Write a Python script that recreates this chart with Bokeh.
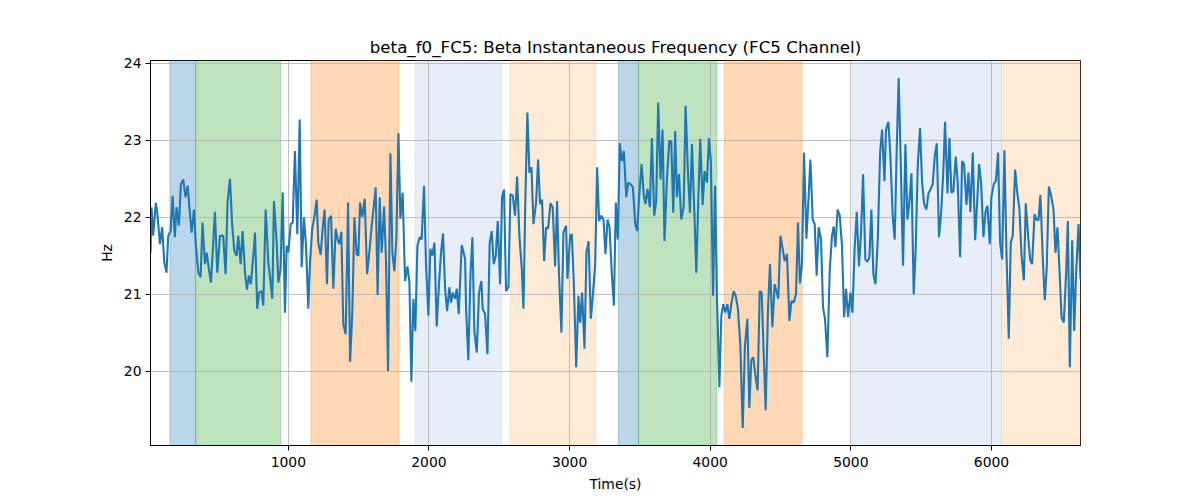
from bokeh.plotting import figure
from bokeh.models import Range1d, BoxAnnotation, FixedTicker
from bokeh.embed import file_html
from bokeh.resources import INLINE

# ---- data ----
time_s = [
    20, 27, 39, 58, 70, 87, 103, 118, 134, 146, 163, 177, 193, 205, 222, 236, 253, 269, 284, 300,
    312, 329, 341, 360, 376, 390, 407, 419, 435, 450, 466, 478, 495, 514, 537, 554, 568, 585, 601, 616,
    632, 644, 661, 675, 692, 706, 720, 734, 751, 763,
    779, 793, 810, 822, 839, 858, 874, 886, 898, 917, 929, 945, 960, 976, 988, 1000, 1017, 1031, 1047, 1064,
    1081, 1095, 1111, 1126, 1142, 1154, 1171, 1183, 1202, 1213, 1230, 1244, 1258, 1275, 1287, 1304, 1320, 1337, 1351, 1363,
    1377, 1391, 1408, 1425, 1439, 1455, 1470, 1486, 1498, 1510,
    1526, 1543, 1560, 1576, 1593, 1607, 1621, 1635, 1650, 1664, 1681, 1695, 1709, 1726, 1740, 1754, 1768, 1783, 1797, 1813,
    1830, 1847, 1861, 1875, 1889, 1903, 1918, 1934, 1948, 1965, 1979, 1996, 2010, 2024, 2039, 2055, 2072, 2086, 2100, 2115,
    2129, 2145, 2157, 2169, 2186, 2198, 2212, 2233, 2257,
    2264, 2280, 2295, 2309, 2323, 2340, 2356, 2373, 2382, 2399, 2416, 2432, 2446, 2461, 2475, 2489, 2506, 2520, 2534, 2548,
    2565, 2579, 2596, 2612, 2627, 2643, 2660, 2672, 2686, 2700, 2714, 2729, 2743, 2762, 2776, 2790, 2804, 2819, 2833, 2847,
    2864, 2880, 2897, 2911, 2925, 2942, 2956, 2975, 2985, 3004,
    3016, 3030, 3047, 3063, 3075, 3089, 3106, 3120, 3135, 3151, 3168, 3182, 3196, 3210, 3225, 3241, 3255, 3270, 3284, 3301,
    3315, 3329, 3343, 3357, 3372, 3386, 3403, 3417, 3433, 3450, 3467, 3481, 3495, 3512, 3528, 3540, 3554, 3571, 3585, 3602,
    3616, 3630, 3647, 3661, 3675, 3692, 3709, 3723, 3737, 3751,
    3763, 3778, 3794, 3811, 3825, 3842, 3856, 3870, 3887, 3901, 3915, 3929, 3946, 3960, 3977, 3991, 4005, 4020, 4034, 4048,
    4065, 4079, 4093, 4107, 4122, 4136, 4150, 4167, 4181, 4197, 4214, 4231, 4247, 4264, 4278, 4292, 4306, 4323, 4337, 4352,
    4366, 4380, 4394, 4411, 4425, 4442, 4458, 4470, 4484, 4499,
    4515, 4529, 4546, 4563, 4577, 4593, 4610, 4624, 4638, 4653, 4667, 4684, 4700, 4712, 4729, 4743, 4757, 4771, 4788, 4802,
    4816, 4833, 4850, 4866, 4878, 4890, 4906, 4921, 4937, 4952, 4966, 4980, 4997, 5011, 5027, 5042, 5058, 5073, 5087, 5103,
    5118, 5132, 5146, 5160, 5175, 5191, 5208, 5222, 5239,
    5250, 5267, 5281, 5298, 5312, 5326, 5340, 5357, 5371, 5388, 5402, 5416, 5431, 5447, 5461, 5476, 5492, 5506, 5521, 5537,
    5552, 5566, 5582, 5597, 5611, 5627, 5642, 5656, 5670, 5687, 5701, 5715, 5729, 5746, 5760, 5777, 5791, 5805, 5822, 5836,
    5850, 5867, 5884, 5898, 5912, 5926, 5943, 5957, 5971, 5988,
    5999, 6016, 6031, 6047, 6061, 6076, 6092, 6106, 6123, 6137, 6151, 6168, 6182, 6199, 6213, 6230, 6244, 6261, 6275, 6289,
    6306, 6320, 6334, 6348, 6365, 6379, 6393, 6408, 6424, 6441, 6455, 6469, 6484, 6498, 6514, 6531, 6543, 6557, 6574, 6588,
    6602, 6619, 6633,
]

freq_hz = [
    21.54, 22.13, 21.76, 22.19, 22.02, 21.65, 21.87, 21.41, 21.28, 21.76, 21.82, 22.28, 21.74, 22.13, 21.89, 22.43, 22.49, 22.26, 22.41, 22.06,
    21.80, 22.10, 21.67, 21.28, 21.22, 21.93, 21.39, 21.54, 21.33, 21.15, 21.67, 22.07, 21.28, 21.76, 21.76, 21.26, 22.19, 22.50, 21.89, 21.56,
    21.50, 21.76, 21.39, 21.82, 21.28, 21.06, 21.24, 21.13, 21.50, 21.80,
    20.81, 21.02, 21.04, 20.85, 22.10, 21.41, 21.15, 20.94, 22.21, 21.67, 21.15, 21.33, 22.32, 20.76, 21.63, 21.54, 21.91, 21.93, 22.86, 21.78,
    23.27, 21.35, 22.00, 21.63, 20.81, 21.41, 21.87, 21.97, 22.23, 21.67, 21.51, 21.85, 22.10, 21.13, 21.97, 22.02, 21.07, 21.85, 21.71, 21.65,
    21.81, 20.61, 20.48, 22.19, 20.12, 20.76, 22.00, 21.52, 21.50, 22.19,
    22.00, 22.24, 21.26, 21.54, 21.89, 22.13, 22.39, 20.99, 22.26, 21.54, 22.14, 21.41, 20.00, 22.83, 21.54, 21.30, 21.71, 23.09, 21.98, 22.32,
    21.17, 21.36, 21.15, 19.86, 20.94, 20.52, 21.63, 21.74, 21.71, 22.41, 21.39, 20.72, 21.59, 21.50, 21.67, 20.58, 21.15, 21.54, 21.79, 21.07,
    20.78, 21.09, 20.89, 21.02, 20.94, 21.07, 20.74, 21.64, 21.46,
    20.81, 20.14, 21.24, 21.74, 20.52, 20.24, 21.02, 21.17, 20.81, 20.74, 20.22, 21.67, 21.82, 21.39, 21.50, 21.95, 21.13, 22.26, 22.36, 21.04,
    21.09, 22.30, 22.28, 22.02, 22.53, 21.76, 21.33, 20.81, 22.28, 23.36, 22.58, 22.65, 21.91, 22.19, 22.75, 22.17, 22.23, 21.43, 21.87, 21.85,
    22.18, 22.13, 21.36, 22.21, 21.24, 20.50, 21.80, 21.89, 21.20, 21.76,
    21.78, 21.15, 20.05, 20.98, 20.63, 21.02, 20.29, 21.54, 21.69, 20.68, 21.04, 21.39, 22.65, 21.95, 22.02, 21.97, 21.52, 21.97, 21.87, 21.24,
    20.85, 22.19, 21.71, 22.96, 22.73, 22.86, 22.26, 22.45, 22.43, 22.39, 21.91, 21.82, 22.28, 22.69, 22.28, 22.17, 22.37, 22.13, 23.03, 22.02,
    22.21, 23.49, 22.49, 23.14, 21.69, 22.49, 22.99, 22.99, 22.06, 23.12,
    22.26, 22.56, 21.97, 22.13, 23.45, 22.56, 22.06, 22.95, 22.08, 21.28, 22.21, 23.02, 22.16, 22.60, 22.45, 23.03, 22.71, 20.98, 22.41, 20.98,
    19.79, 20.72, 20.87, 20.76, 20.87, 20.68, 20.87, 21.04, 20.98, 20.81, 20.35, 19.26, 20.33, 20.68, 19.52, 20.14, 20.18, 19.92, 19.75, 21.04,
    21.02, 20.24, 19.49, 20.81, 21.39, 20.57, 21.13, 21.04, 20.94, 21.76,
    21.59, 21.43, 21.52, 20.65, 20.91, 20.89, 21.00, 21.93, 21.14, 21.41, 22.84, 21.72, 22.28, 22.75, 21.97, 21.91, 21.24, 21.87, 21.71, 20.83,
    20.68, 20.18, 21.32, 21.76, 21.88, 21.61, 22.10, 22.02, 21.63, 20.70, 21.07, 20.70, 21.02, 20.76, 21.59, 22.07, 21.36, 21.82, 22.56, 21.45,
    21.42, 21.48, 22.10, 21.26, 21.13, 21.67, 22.84, 23.14, 22.47,
    23.14, 23.24, 22.80, 22.00, 21.71, 22.88, 23.81, 22.54, 21.37, 22.95, 21.97, 22.19, 22.57, 21.00, 21.58, 22.69, 23.16, 22.47, 22.17, 22.10,
    22.31, 22.36, 22.43, 22.80, 22.96, 21.74, 22.06, 22.54, 23.24, 22.31, 23.03, 22.32, 22.34, 22.79, 22.45, 21.48, 22.73, 22.69, 22.16, 22.58,
    22.07, 22.84, 21.70, 22.19, 22.69, 22.45, 21.74, 22.06, 22.15, 21.65,
    22.26, 22.43, 22.47, 22.84, 21.67, 21.45, 22.87, 21.58, 20.42, 21.67, 21.76, 22.62, 22.34, 22.10, 21.52, 21.18, 22.18, 21.74, 21.45, 21.39,
    22.04, 21.97, 21.96, 22.29, 21.45, 20.92, 21.35, 22.40, 22.28, 22.10, 21.54, 21.87, 21.30, 20.70, 20.63, 21.28, 21.95, 20.05, 21.70, 20.52,
    21.28, 21.91, 21.20,
]

span_start = [158, 341, 1161, 1901, 2577, 3346, 3490, 4100, 5009, 6071]
span_end = [341, 946, 1787, 2518, 3187, 3490, 4048, 4653, 6071, 6633]
span_color = ["#1f77b4", "#2ca02c", "#ff7f0e", "#aec7e8", "#ffbb78",
              "#1f77b4", "#2ca02c", "#ff7f0e", "#aec7e8", "#ffbb78"]

x_ticks = [1000, 2000, 3000, 4000, 5000, 6000]
y_ticks = [20, 21, 22, 23, 24]

title_text = "beta_f0_FC5: Beta Instantaneous Frequency (FC5 Channel)"
x_label = "Time(s)"
y_label = "Hz"

# ---- ranges (matplotlib-like 5% y margin, tight x) ----
ymin, ymax = min(freq_hz), max(freq_hz)
pad = 0.05 * (ymax - ymin)

FONT = "DejaVu Sans"

p = figure(
    frame_width=930, frame_height=385,
    x_range=Range1d(time_s[0], time_s[-1]),
    y_range=Range1d(ymin - pad, ymax + pad),
    output_backend="svg", toolbar_location=None,
    min_border_left=150, min_border_right=112,
    min_border_top=60, min_border_bottom=47,
    title=title_text,
)
p.background_fill_color = "white"
p.border_fill_color = "white"
p.outline_line_color = "black"
p.outline_line_width = 1
p.outline_line_alpha = 1

p.title.align = "center"
p.title.text_font = FONT
p.title.text_font_size = "16.7px"
p.title.text_font_style = "normal"
p.title.text_color = "black"
p.title.standoff = 8

for s, e, c in zip(span_start, span_end, span_color):
    p.add_layout(BoxAnnotation(left=s, right=e, fill_color=c, fill_alpha=0.3,
                               line_color=c, line_alpha=0.3, line_width=1,
                               level="image"))

p.line(time_s, freq_hz, line_color="#1f77b4", line_width=2.1)

p.xaxis.ticker = FixedTicker(ticks=x_ticks)
p.yaxis.ticker = FixedTicker(ticks=y_ticks)
p.xaxis.axis_label = x_label
p.yaxis.axis_label = y_label

for ax in (p.xaxis, p.yaxis):
    ax.axis_line_color = "black"
    ax.major_tick_line_color = "black"
    ax.major_tick_in = 0
    ax.major_tick_out = 5
    ax.minor_tick_line_color = None
    ax.major_label_text_font = FONT
    ax.major_label_text_font_size = "13.9px"
    ax.major_label_text_color = "black"
    ax.axis_label_text_font = FONT
    ax.axis_label_text_font_size = "13.9px"
    ax.axis_label_text_font_style = "normal"
    ax.axis_label_text_color = "black"
    ax.axis_label_standoff = 6

p.xaxis.major_label_standoff = 6
p.yaxis.major_label_standoff = 4
p.yaxis.major_label_orientation = "horizontal"

p.grid.grid_line_color = "#b0b0b0"
p.grid.grid_line_width = 0.8
p.grid.level = "underlay"

open("out.html", "w").write(file_html(p, INLINE))
